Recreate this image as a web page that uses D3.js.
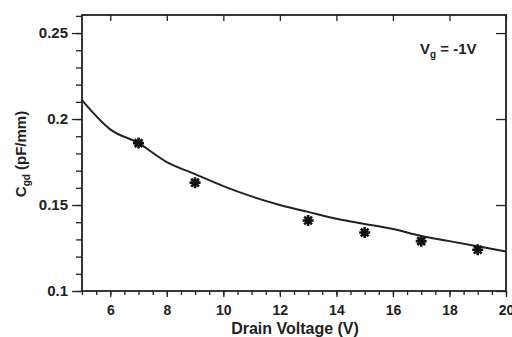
<!doctype html>
<html lang=en>

<head>
  <meta charset=utf-8>
  <title>Cgd vs drain voltage</title>
  <style>
    body { margin: 0; background: #fff; }
    text { font-family: "Liberation Sans", Arial, sans-serif; font-weight: bold; fill: #222; }
  </style>
</head>

<body>
  <svg></svg>
  <script src="https://d3js.org/d3.v7.min.js"></script>
  <script>
    var width = 512;
    var height = 337;

    // simulated curve
    var curveV = [5, 6, 7, 8, 9, 10, 11, 12, 13, 14, 15, 16, 17, 18, 19, 20];
    var curveC = [0.211, 0.194, 0.186, 0.175, 0.168, 0.161, 0.155, 0.150, 0.146, 0.142, 0.139, 0.136, 0.132, 0.129, 0.126, 0.123];

    // measured points
    var measV = [7, 9, 13, 15, 17, 19];
    var measC = [0.186, 0.163, 0.141, 0.134, 0.129, 0.124];

    var xTicks = [6, 8, 10, 12, 14, 16, 18, 20];
    var yTicks = [0.1, 0.15, 0.2, 0.25];
    var yTickLabels = ["0.1", "0.15", "0.2", "0.25"];

    // plot box
    var pl = 82, pr = 506, pt = 15, pb = 291;

    var svg = d3.select("svg")
      .attr("width", width)
      .attr("height", height);

    var x = d3.scaleLinear().domain([5, 20]).range([pl, pr]);
    var y = d3.scaleLinear().domain([0.1, 0.2605]).range([pb, pt]);

    var ink = "#222";

    // left axis, ticks outside
    var yMinor = d3.range(0.1, 0.2601, 0.01);
    svg.append("g")
      .attr("transform", "translate(" + pl + ",0)")
      .call(d3.axisLeft(y).tickValues(yMinor).tickSize(6).tickFormat(""));
    svg.append("g")
      .attr("transform", "translate(" + pl + ",0)")
      .call(d3.axisLeft(y).tickValues(yTicks).tickSize(10).tickPadding(4)
        .tickFormat(function (d, i) { return yTickLabels[i]; }));

    // bottom axis, ticks outside
    svg.append("g")
      .attr("transform", "translate(0," + pb + ")")
      .call(d3.axisBottom(x).tickValues(d3.range(5, 20.01, 0.5)).tickSize(4).tickFormat(""));
    var xAxis = svg.append("g")
      .attr("transform", "translate(0," + pb + ")")
      .call(d3.axisBottom(x).tickValues(xTicks).tickSize(6).tickPadding(8));

    // top axis, ticks inside
    svg.append("g")
      .attr("transform", "translate(0," + pt + ")")
      .call(d3.axisTop(x).tickValues(xTicks).tickSize(-6).tickFormat(""));

    // right axis, ticks inside
    svg.append("g")
      .attr("transform", "translate(" + pr + ",0)")
      .call(d3.axisRight(y).tickValues(yTicks).tickSize(-10).tickFormat(""));

    svg.selectAll(".domain").remove();
    svg.selectAll(".tick line").attr("stroke", ink).attr("stroke-width", 1.3);
    svg.selectAll(".tick text").attr("font-size", 15).attr("fill", ink)
      .attr("font-family", "Liberation Sans, Arial, sans-serif").attr("font-weight", "bold");
    xAxis.selectAll(".tick text").attr("font-size", 14);

    // frame
    svg.append("rect")
      .attr("x", pl).attr("y", pt)
      .attr("width", pr - pl).attr("height", pb - pt)
      .attr("fill", "none").attr("stroke", ink).attr("stroke-width", 1.8);

    // curve
    var line = d3.line()
      .x(function (d, i) { return x(curveV[i]); })
      .y(function (d) { return y(d); })
      .curve(d3.curveMonotoneX);

    svg.append("path")
      .datum(curveC)
      .attr("d", line)
      .attr("fill", "none")
      .attr("stroke", ink)
      .attr("stroke-width", 2);

    // asterisks
    var r = 5.5;
    var star = "";
    for (var k = 0; k < 4; k++) {
      var a = k * Math.PI / 4;
      var dx = r * Math.cos(a), dy = r * Math.sin(a);
      star += "M" + (-dx) + "," + (-dy) + "L" + dx + "," + dy;
    }
    svg.selectAll(".star")
      .data(measC)
      .enter().append("path")
      .attr("class", "star")
      .attr("transform", function (d, i) { return "translate(" + x(measV[i]) + "," + y(d) + ")"; })
      .attr("d", star)
      .attr("stroke", "#111")
      .attr("stroke-width", 2.6);

    // axis titles
    svg.append("text")
      .attr("x", (pl + pr) / 2 + 1)
      .attr("y", 334)
      .attr("text-anchor", "middle")
      .attr("font-size", 16)
      .text("Drain Voltage (V)");

    var yl = svg.append("text")
      .attr("transform", "translate(26,154) rotate(-90)")
      .attr("text-anchor", "middle")
      .attr("font-size", 15);
    yl.append("tspan").text("C");
    yl.append("tspan").attr("font-size", 10).attr("dy", 4).text("gd");
    yl.append("tspan").attr("dy", -4).text(" (pF/mm)");

    var vg = svg.append("text")
      .attr("x", 420)
      .attr("y", 54)
      .attr("font-size", 15);
    vg.append("tspan").text("V");
    vg.append("tspan").attr("font-size", 10).attr("dy", 4).text("g");
    vg.append("tspan").attr("dy", -4).text(" = -1V");
  </script>
</body>

</html>
